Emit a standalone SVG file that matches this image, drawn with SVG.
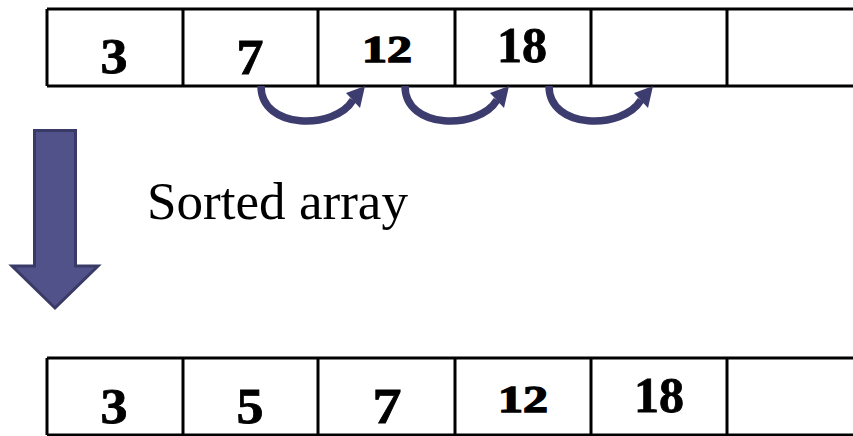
<svg xmlns="http://www.w3.org/2000/svg" width="853" height="436" viewBox="0 0 853 436">
  <style>
    .grid { stroke: #000; stroke-width: 3; fill: none; }
    .num { font-family: "Liberation Serif", "Times New Roman", serif; font-weight: bold; fill: #000; stroke: #000; text-anchor: middle; }
    .big { font-size: 50px; stroke-width: 0.8; }
    .small { font-size: 38px; stroke-width: 1.4; }
    .label { font-family: "Liberation Serif", "Times New Roman", serif; font-size: 53px; fill: #000; }
    .curve { fill: none; stroke: #3c3c6e; stroke-width: 7.5; }
    .curvehead { fill: #3c3c6e; }
  </style>
  <defs>
    <!-- curved "moves right" arrow, drawn once at the first slot -->
    <g id="shift">
      <path class="curve" d="M 261 86 C 261 130, 335 130, 353 100"/>
      <polygon class="curvehead" points="365,86 346,93 360,108"/>
    </g>
  </defs>

  <!-- top array -->
  <g id="array-top">
    <path class="grid" d="M 47 9 H 860 M 47 86 H 860 M 47 9 V 86 M 183 9 V 86 M 318 9 V 86 M 455 9 V 86 M 591 9 V 86 M 727 9 V 86"/>
    <text class="num big" x="114" y="73" textLength="27" lengthAdjust="spacingAndGlyphs">3</text>
    <text class="num big" x="250" y="74" textLength="27" lengthAdjust="spacingAndGlyphs">7</text>
    <text class="num small" x="387" y="62" textLength="50" lengthAdjust="spacingAndGlyphs">12</text>
    <text class="num big" x="522" y="62" textLength="50" lengthAdjust="spacingAndGlyphs">18</text>
  </g>

  <!-- shift arrows -->
  <g id="connectors">
    <use href="#shift"/>
    <use href="#shift" transform="translate(144,0)"/>
    <use href="#shift" transform="translate(288,0)"/>
  </g>

  <!-- big down arrow -->
  <g id="down-arrow">
    <polygon points="34.5,130.5 75.5,130.5 75.5,266 98,266 55,308 12,266 34.5,266" fill="#52528a" stroke="#3a3a66" stroke-width="3" stroke-linejoin="miter"/>
  </g>

  <g id="caption">
    <text class="label" x="147" y="219" textLength="261" lengthAdjust="spacingAndGlyphs">Sorted array</text>
  </g>

  <!-- bottom array -->
  <g id="array-bottom">
    <path class="grid" d="M 47 358 H 860 M 47 435 H 860 M 47 358 V 435 M 183 358 V 435 M 318 358 V 435 M 455 358 V 435 M 591 358 V 435 M 727 358 V 435"/>
    <text class="num big" x="114" y="423" textLength="27" lengthAdjust="spacingAndGlyphs">3</text>
    <text class="num big" x="250" y="423" textLength="27" lengthAdjust="spacingAndGlyphs">5</text>
    <text class="num big" x="387" y="423" textLength="29" lengthAdjust="spacingAndGlyphs">7</text>
    <text class="num small" x="523" y="412" textLength="50" lengthAdjust="spacingAndGlyphs">12</text>
    <text class="num big" x="659" y="412" textLength="50" lengthAdjust="spacingAndGlyphs">18</text>
  </g>
</svg>
